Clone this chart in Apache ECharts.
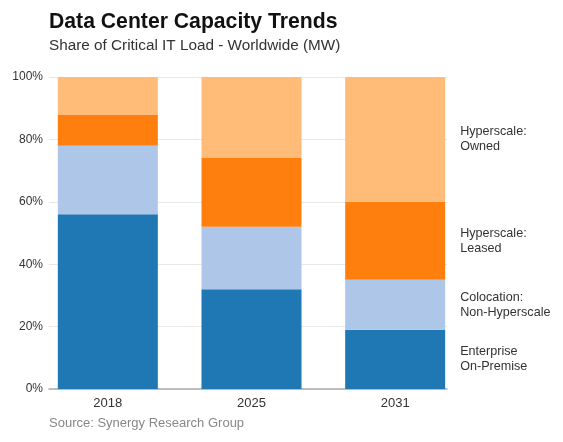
<!DOCTYPE html>
<html>
<head>
<meta charset="utf-8">
<script src="https://cdn.jsdelivr.net/npm/echarts@6/dist/echarts.min.js"></script>
<style>
  html, body { margin: 0; padding: 0; background: #fff; }
  #chart { width: 563px; height: 442px; }
</style>
</head>
<body>
<div id="chart"></div>
<script>
// data (share of critical IT load, %)
var years = ["2018", "2025", "2031"];
var enterprise = [56, 32, 19];
var colocation = [22, 20, 16];
var leased = [10, 22, 25];
var owned = [12, 26, 40];
var seriesNames = ["Enterprise\nOn-Premise", "Colocation:\nNon-Hyperscale", "Hyperscale:\nLeased", "Hyperscale:\nOwned"];
var yTicks = [0, 20, 40, 60, 80, 100];

var colors = ["#1f77b4", "#aec7e8", "#ff7f0e", "#ffbb78"];
var font = "Liberation Sans, Arial, sans-serif";

function makeSeries(name, values, color) {
    return {
        name: name,
        type: "bar",
        stack: "total",
        xAxisIndex: 1,
        yAxisIndex: 1,
        barWidth: 100,
        data: values,
        itemStyle: { color: color },
        label: {
            show: true,
            position: "right",
            distance: 15,
            color: "#333",
            fontSize: 12.6,
            lineHeight: 15,
            fontFamily: font,
            formatter: function (p) {
                return p.dataIndex === years.length - 1 ? p.seriesName : "";
            }
        },
        emphasis: { disabled: true }
    };
}

var chart = echarts.init(document.getElementById("chart"));
var option = {
    backgroundColor: "#fff",
    animation: false,
    title: {
        text: "Data Center Capacity Trends",
        subtext: "Share of Critical IT Load - Worldwide (MW)",
        left: 44,
        top: 7,
        itemGap: 5,
        textStyle: { fontSize: 21.2, fontWeight: "bold", color: "#111", fontFamily: font },
        subtextStyle: { fontSize: 15.3, color: "#333", fontFamily: font }
    },
    // grid 0 carries the axis line, gridlines and percent labels,
    // grid 1 carries the bars
    grid: [
        { left: 49, right: 116, top: 77, bottom: 53, outerBoundsMode: "none" },
        { left: 36, right: 96, top: 77, bottom: 53, outerBoundsMode: "none" }
    ],
    xAxis: [{
        gridIndex: 0,
        type: "value",
        min: 0,
        max: 1,
        axisLine: { show: true, lineStyle: { color: "#aaa", width: 1.5 } },
        axisTick: { show: false },
        splitLine: { show: false },
        axisLabel: { show: false }
    }, {
        gridIndex: 1,
        type: "category",
        data: years,
        axisLine: { show: false },
        axisTick: { show: false },
        splitLine: { show: false },
        axisLabel: {
            margin: 8,
            color: "#333",
            fontSize: 13,
            fontFamily: font
        }
    }],
    yAxis: [{
        gridIndex: 0,
        type: "value",
        min: yTicks[0],
        max: yTicks[yTicks.length - 1],
        interval: 20,
        axisLine: { show: false },
        axisTick: { show: false },
        splitLine: { lineStyle: { color: "#e8e8e8", width: 1 } },
        axisLabel: {
            margin: 6,
            color: "#333",
            fontSize: 12,
            fontFamily: font,
            formatter: "{value}%"
        }
    }, {
        gridIndex: 1,
        type: "value",
        min: yTicks[0],
        max: yTicks[yTicks.length - 1],
        show: false
    }],
    graphic: [{
        type: "text",
        left: 49,
        top: 417,
        style: {
            text: "Source: Synergy Research Group",
            fill: "#888",
            fontSize: 13,
            fontFamily: font
        }
    }],
    series: [
        makeSeries(seriesNames[0], enterprise, colors[0]),
        makeSeries(seriesNames[1], colocation, colors[1]),
        makeSeries(seriesNames[2], leased, colors[2]),
        makeSeries(seriesNames[3], owned, colors[3])
    ]
};
chart.setOption(option);
</script>
</body>
</html>
